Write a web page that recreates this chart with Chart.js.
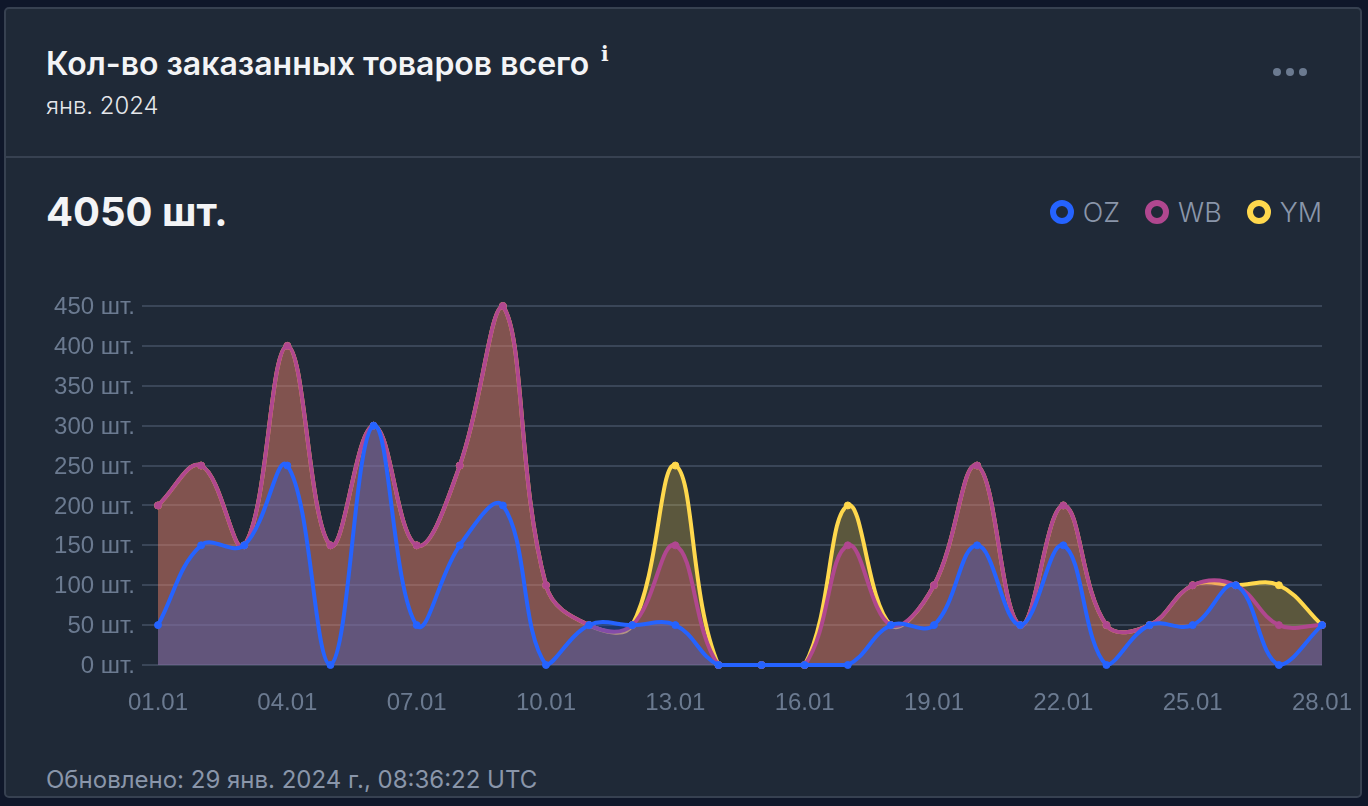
<!DOCTYPE html>
<html lang="ru">
<head>
<meta charset="utf-8">
<title>Кол-во заказанных товаров всего</title>
<script src="https://cdn.jsdelivr.net/npm/chart.js@4"></script>
<style>
html, body { margin: 0; padding: 0; width: 1368px; height: 806px; overflow: hidden; background: #0f172a; font-family: Inter, sans-serif; }
.card { position: absolute; left: 4px; top: 7px; width: 1358px; height: 791px; box-sizing: border-box; background: #1f2937; border: 2px solid #374151; border-radius: 5px; }
.txt { position: absolute; white-space: nowrap; line-height: 1; }
#title { left: 46px; top: 48px; font-size: 32px; font-weight: 600; color: #f3f4f6; }
#info { left: 601px; top: 44px; font-family: "DejaVu Serif", serif; font-size: 20px; font-weight: 700; color: #f3f4f6; }
#sub { left: 46px; top: 94px; font-size: 23.9px; font-weight: 300; color: #e5e7eb; }
#sep { position: absolute; left: 5px; width: 1356px; top: 156px; height: 2px; background: #374151; }
#total { left: 46px; top: 192px; font-size: 40px; font-weight: 700; color: #f3f4f6; }
#dots { position: absolute; left: 1273px; top: 68px; display: flex; gap: 5px; }
#dots i { width: 8px; height: 8px; border-radius: 50%; background: #6b7a90; }
#legend { position: absolute; right: 46px; top: 196px; display: flex; gap: 25px; align-items: center; height: 32px; font-size: 27px; font-weight: 300; color: #8a96aa; }
#legend span { display: flex; align-items: center; gap: 9px; }
#legend b { box-sizing: border-box; width: 24px; height: 24px; border-radius: 50%; border-width: 6px; border-style: solid; }
#updated { left: 46px; top: 768px; font-size: 24px; font-weight: 400; color: #8a96aa; }
#chart { position: absolute; left: 0; top: 280px; }
</style>
</head>
<body>
<div class="card"></div>
<div class="txt" id="title">Кол-во заказанных товаров всего</div>
<div class="txt" id="info">i</div>
<div class="txt" id="sub">янв. 2024</div>
<div id="dots"><i></i><i></i><i></i></div>
<div id="sep"></div>
<div class="txt" id="total">4050 шт.</div>
<div id="legend"></div>
<canvas id="chart" width="1368" height="450"></canvas>
<div class="txt" id="updated">Обновлено: 29 янв. 2024 г., 08:36:22 UTC</div>
<script>
//values
const days = ["01.01","02.01","03.01","04.01","05.01","06.01","07.01","08.01","09.01","10.01","11.01","12.01","13.01","14.01",
  "15.01","16.01","17.01","18.01","19.01","20.01","21.01","22.01","23.01","24.01","25.01","26.01","27.01","28.01"];
const oz = [50,150,150,250,0,300,50,150,200,0,50,50,50,0,0,0,0,50,50,150,50,150,0,50,50,100,0,50];
const wb = [200,250,150,400,150,300,150,250,450,100,50,50,150,0,0,0,150,50,100,250,50,200,50,50,100,100,50,50];
const ym = [200,250,150,400,150,300,150,250,450,100,50,50,250,0,0,0,200,50,100,250,50,200,50,50,100,100,100,50];

const names = ["OZ", "WB", "YM"];
const lineColors = ["#2563ff", "#b0478f", "#ffd84d"];
const fillColors = ["rgba(28,89,228,0.3)", "rgba(217,77,122,0.3)", "rgba(255,216,77,0.27)"];
const values = [oz, wb, ym];

const legend = document.getElementById('legend');
names.forEach(function(n, i){
  legend.innerHTML += '<span><b style="border-color:' + lineColors[i] + '"></b>' + n + '</span>';
});

const datasets = names.map(function(n, i){
  return {
    label: n,
    data: values[i],
    borderColor: lineColors[i],
    backgroundColor: fillColors[i],
    pointBackgroundColor: lineColors[i],
    pointBorderColor: lineColors[i],
    pointRadius: 3.5,
    pointBorderWidth: 1,
    borderWidth: 4,
    tension: 0.4,
    fill: 'origin',
    clip: false
  };
});

const tickFont = { family: '"Liberation Sans", sans-serif', size: 24 };

new Chart(document.getElementById('chart').getContext('2d'), {
  type: 'line',
  data: { labels: days, datasets: datasets },
  options: {
    responsive: false,
    animation: false,
    devicePixelRatio: 1,
    layout: { padding: { top: 26, right: 46, left: 0, bottom: 0 } },
    plugins: { legend: { display: false }, title: { display: false }, tooltip: { enabled: false } },
    scales: {
      x: {
        offset: false,
        grid: { display: false },
        border: { display: false },
        afterFit: function(s){ s.height = 65; s.paddingLeft = 0; s.paddingRight = 0; },
        ticks: {
          color: '#6b7a90', font: tickFont, padding: 16, maxRotation: 0, autoSkip: false,
          callback: function(v, i){ return i % 3 === 0 ? days[i] : ''; }
        }
      },
      y: {
        min: 0,
        max: 450,
        afterFit: function(s){ s.width = 158; },
        border: { display: false },
        grid: { color: '#3a4658', lineWidth: 2, tickLength: 16 },
        ticks: {
          stepSize: 50, color: '#6b7a90', font: tickFont, padding: 7, labelOffset: 1.5,
          callback: function(v){ return v + ' шт.'; }
        }
      }
    }
  }
});
</script>
</body>
</html>
